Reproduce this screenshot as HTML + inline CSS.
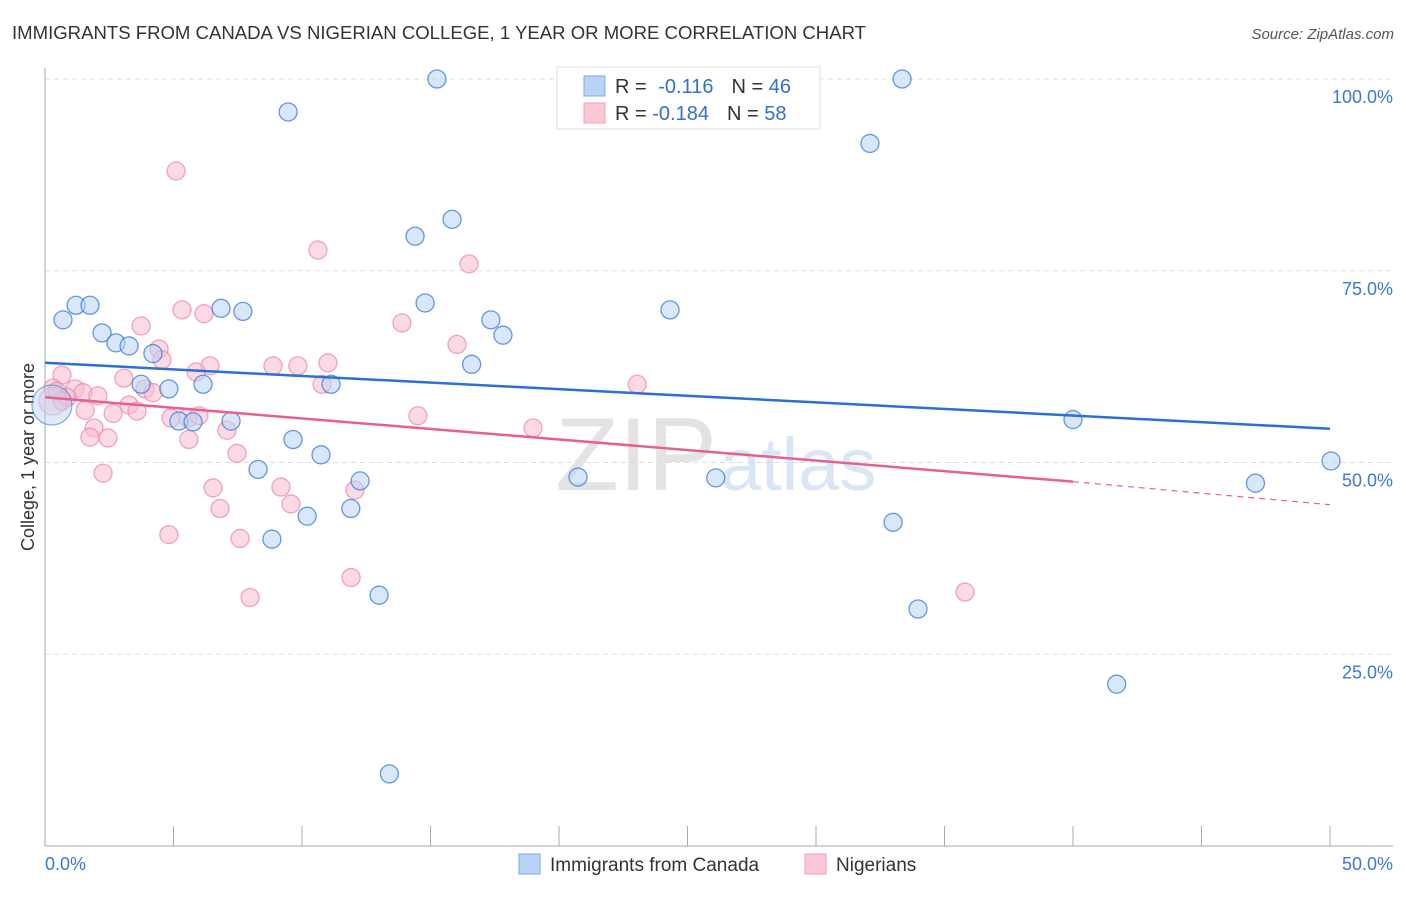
<!DOCTYPE html>
<html><head><meta charset="utf-8"><style>
body{margin:0;background:#fff;font-family:"Liberation Sans",sans-serif}
svg text{font-family:"Liberation Sans",sans-serif}
</style></head><body>
<svg id="c" width="1406" height="892">
<text x="12" y="39" font-size="18" fill="#333" textLength="854" lengthAdjust="spacingAndGlyphs">IMMIGRANTS FROM CANADA VS NIGERIAN COLLEGE, 1 YEAR OR MORE CORRELATION CHART</text>
<text x="1394" y="39" font-size="15" fill="#555" text-anchor="end" font-style="italic">Source: ZipAtlas.com</text>
<text x="34" y="457" font-size="18" fill="#333" text-anchor="middle" transform="rotate(-90 34 457)">College, 1 year or more</text>
<text x="717" y="490" font-size="104" fill="#ddd" text-anchor="end" font-family="Liberation Serif" opacity="0.8">ZIP</text>
<text x="720" y="490" font-size="74" fill="#cfe0f5" opacity="0.8">atlas</text>
<g id="grid"></g><g id="pts"></g><g id="lines"></g>
<rect x="557" y="67" width="263" height="62" fill="#fff" stroke="#ddd"/>
<rect x="584" y="76" width="21" height="20" fill="#b9d3f7" stroke="#7aa8e8"/>
<rect x="584" y="103" width="21" height="20" fill="#fbc8d6" stroke="#f0a0b8"/>
<text x="615" y="93" font-size="20" fill="#333">R = <tspan fill="#3070d0" dx="6">-0.116</tspan><tspan fill="#333" dx="18">N = </tspan><tspan fill="#3070d0">46</tspan></text>
<text x="615" y="120" font-size="20" fill="#333">R = <tspan fill="#3070d0">-0.184</tspan><tspan fill="#333" dx="18">N = </tspan><tspan fill="#3070d0">58</tspan></text>
<rect x="519" y="854" width="21" height="20" fill="#b9d3f7" stroke="#7aa8e8"/>
<text x="550" y="871" font-size="19" fill="#333">Immigrants from Canada</text>
<rect x="805" y="854" width="21" height="20" fill="#fbc8d6" stroke="#f0a0b8"/>
<text x="836" y="871" font-size="19" fill="#333">Nigerians</text>
<text x="45" y="870" font-size="18" fill="#3b78d8">0.0%</text>
<text x="1393" y="870" font-size="18" fill="#3b78d8" text-anchor="end">50.0%</text>
</svg>
<script>
const yTicks=[100,75,50,25];
const yTickLabels=["100.0%","75.0%","50.0%","25.0%"];
const xTicks=[0,5,10,15,20,25,30,35,40,45,50];
const canadaX=[15.25,9.46,33.35,28.6,32.1,15.84,14.4,1.21,1.75,0.7,6.85,7.7,14.79,24.32,17.35,2.22,17.82,2.76,3.27,4.2,16.6,3.74,4.82,6.15,11.13,5.21,5.76,7.24,40.0,9.65,10.74,8.29,12.26,20.74,26.1,50.04,47.1,11.9,10.2,33.0,8.83,13.0,33.97,41.7,13.4,0.27];
const canadaY=[100,95.7,100,99.9,91.6,81.7,79.5,70.5,70.5,68.6,70.1,69.7,70.8,69.9,68.6,66.9,66.6,65.6,65.2,64.2,62.8,60.2,59.6,60.2,60.2,55.4,55.3,55.4,55.6,53.0,51.0,49.1,47.6,48.1,48.0,50.2,47.3,44.0,43.0,42.2,40.0,32.7,30.9,21.1,9.4,57.5];
const nigX=[5.1,10.62,16.5,5.33,6.19,3.74,13.89,16.03,4.44,4.55,6.42,5.88,8.87,9.84,11.01,0.66,3.07,23.04,10.78,0.31,0.47,1.17,3.89,4.2,1.48,0.86,2.06,0.66,3.27,1.56,2.65,3.58,4.9,5.56,5.99,14.51,7.08,18.99,1.91,1.75,2.45,5.6,7.47,2.26,6.54,9.18,12.06,9.57,6.81,4.82,7.59,11.91,35.8,7.98,0.31];
const nigY=[88,77.7,75.9,69.9,69.4,67.8,68.2,65.4,64.8,63.4,62.6,61.8,62.6,62.6,63.0,61.4,61.0,60.2,60.2,59.7,59.3,59.6,59.6,59.1,59.1,58.5,58.7,58.0,57.5,56.8,56.4,56.7,55.8,55.8,56.1,56.1,54.2,54.5,54.5,53.3,53.2,53.0,51.2,48.6,46.7,46.8,46.4,44.6,44.0,40.6,40.1,35.0,33.1,32.4,58.0];
const canadaTrend=[[0,63.0],[50,54.4]];
const nigTrend=[[0,58.5],[40,47.5],[50,44.5]];
const X=v=>45+v*25.7, Y=v=>846-v*7.67;
const NS="http://www.w3.org/2000/svg";
function mk(t,a,p){const e=document.createElementNS(NS,t);for(const k in a)e.setAttribute(k,a[k]);p.appendChild(e);return e;}
const g=document.getElementById('grid'),P=document.getElementById('pts'),L=document.getElementById('lines');
yTicks.forEach((t,i)=>{
 const l=mk('line',{x1:45,x2:1393,y1:Y(t),y2:Y(t),stroke:'#ddd','stroke-dasharray':'5,4'},g);
 
 
 const tx=mk('text',{x:1393,y:Y(t)+24,'font-size':18,fill:'#3b78d8','text-anchor':'end'},g);tx.textContent=yTickLabels[i];
 
 
});
const ax=mk('line',{x1:45,x2:45,y1:68,y2:846,stroke:'#aaa'},g);


const bx=mk('line',{x1:45,x2:1393,y1:846,y2:846,stroke:'#aaa'},g);


xTicks.forEach(t=>{const l=mk('line',{x1:X(t),x2:X(t),y1:826,y2:846,stroke:'#aaa'},g);
 
 });
function pts(xs,ys,fill,stroke,name){xs.forEach((x,i)=>{
 const big=(i==xs.length-1);
 const r=big?(name=='canada-point'?20:14):9;
 const c=mk('circle',{cx:X(x),cy:Y(ys[i]),r:r,fill:fill,'fill-opacity':big?0.45:0.55,stroke:stroke,'stroke-width':1.3,'stroke-opacity':big?0.6:0.8},P);
 
 });}
pts(nigX,nigY,'#f8bccd','#ee8fae','nigerian-point');
pts(canadaX,canadaY,'#b9d3f7','#3f7fd8','canada-point');
const b=mk('line',{x1:X(canadaTrend[0][0]),y1:Y(canadaTrend[0][1]),x2:X(canadaTrend[1][0]),y2:Y(canadaTrend[1][1]),stroke:'#2c6fd6','stroke-width':2.5},L);


const p1=mk('line',{x1:X(nigTrend[0][0]),y1:Y(nigTrend[0][1]),x2:X(nigTrend[1][0]),y2:Y(nigTrend[1][1]),stroke:'#e8608f','stroke-width':2.5},L);


const p2=mk('line',{x1:X(nigTrend[1][0]),y1:Y(nigTrend[1][1]),x2:X(nigTrend[2][0]),y2:Y(nigTrend[2][1]),stroke:'#e8608f','stroke-width':1.2,'stroke-dasharray':'6,5'},L);


</script>
</body></html>
